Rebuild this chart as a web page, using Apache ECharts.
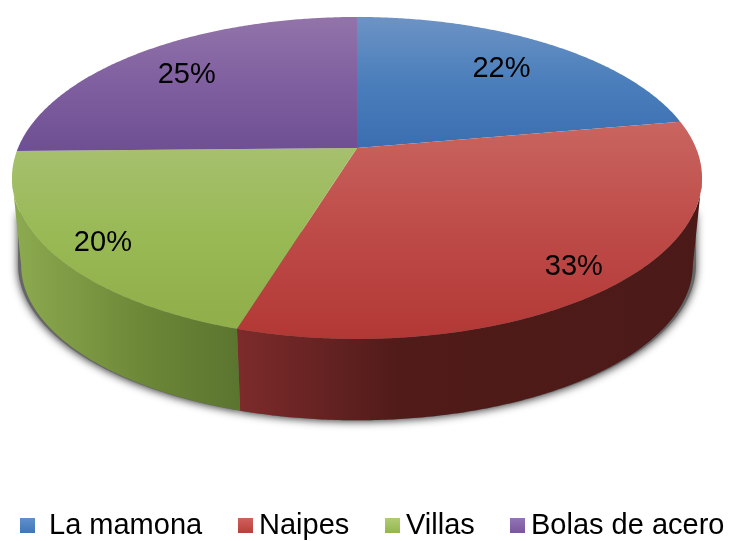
<!DOCTYPE html>
<html>
<head>
<meta charset="utf-8">
<style>html,body{margin:0;padding:0;background:#fff}#c{width:729px;height:541px}</style>
<script src="https://cdn.jsdelivr.net/npm/echarts@6/dist/echarts.min.js"></script>
</head>
<body>
<div id="c"></div>
<script>
var categories = ['La mamona', 'Naipes', 'Villas', 'Bolas de acero'];
var values = [22.2, 32.5, 20.0, 25.3];
var legendColors = [['#5f90cc', '#3f76b8'], ['#d0605c', '#b93f3b'], ['#b0cc74', '#94b64c'], ['#9274b4', '#7a569e']];
var topColors = [['#6d93c5', '#4a7ebb', '#3a6eb0'], ['#c9655f', '#be4b48', '#b23835'], ['#a6c06e', '#98b954', '#90ae49'], ['#9274aa', '#7f5f9f', '#6e4f92']];
var sideColors = [
  [[0, '#2f5686'], [1, '#264870']],
  [[0, '#7d2b2b'], [0.35, '#501b19'], [1, '#4b1a18']],
  [[0, '#8dab50'], [0.6, '#6b8636'], [1, '#5b7530']],
  [[0, '#5a4078'], [1, '#4a3464']]
];

var total = values.reduce(function (a, b) { return a + b; }, 0);
var CX = 357, TOP_CY = 148, TOP_A = 155.4, TOP_C = 339, B = 0.186;
var BOT_CY = 236, BOT_A = 150, BOT_C = 330;
// The wall of the disc is only visible between the two silhouette tangents.
var VIS_START = Math.acos(-B), VIS_END = 2 * Math.PI - VIS_START;

function project(theta, r, cy, a, c) {
  var X = r * Math.sin(theta), Z = r * Math.cos(theta), w = 1 + B * Z;
  return [CX + c * X / w, cy - a * Z / w];
}
function arc(t0, t1, cy, a, c) {
  var pts = [], n = Math.max(2, Math.ceil(Math.abs(t1 - t0) / (Math.PI / 360)));
  for (var i = 0; i <= n; i++) pts.push(project(t0 + (t1 - t0) * i / n, 1, cy, a, c));
  return pts;
}
function startOf(idx) {
  var s = 0;
  for (var i = 0; i < idx; i++) s += values[i];
  return s / total * Math.PI * 2;
}
function vertical(c) {
  return { type: 'linear', x: 0, y: 0, x2: 0, y2: 1, colorStops: c.map(function (col, i) { return { offset: i / (c.length - 1), color: col }; }) };
}
function horizontal(stops) {
  return { type: 'linear', x: 0, y: 0, x2: 1, y2: 0, colorStops: stops.map(function (s) { return { offset: s[0], color: s[1] }; }) };
}

function makeRender(idx) {
  return function (params, api) {
    var v = api.value(0);
    var t0 = startOf(idx), t1 = t0 + v / total * Math.PI * 2, mid = (t0 + t1) / 2;
    var topArc = arc(t0, t1, TOP_CY, TOP_A, TOP_C);
    var back = Math.cos(mid) > 0;
    var lp = project(mid, back ? 0.755 : 0.85, TOP_CY, TOP_A, TOP_C);
    var children = [];
    var s0 = Math.max(t0, VIS_START), s1 = Math.min(t1, VIS_END);
    if (s1 > s0) {
      var sideTop = arc(s0, s1, TOP_CY, TOP_A, TOP_C);
      var sideBot = arc(s0, s1, BOT_CY, BOT_A, BOT_C);
      var shadowPts = [[CX, BOT_CY]];
      if (s0 === VIS_START) shadowPts.push(project(s0, 1, TOP_CY + 34, TOP_A, TOP_C - 6));
      shadowPts = shadowPts.concat(arc(s0, s1, BOT_CY, BOT_A, BOT_C + 3));
      if (s1 === VIS_END) shadowPts.push(project(s1, 1, TOP_CY + 34, TOP_A, TOP_C - 6));
      children.push({
        type: 'polygon', z2: 0,
        shape: { points: shadowPts },
        style: { fill: '#666', shadowBlur: 8, shadowColor: 'rgba(0,0,0,0.8)', shadowOffsetY: 1 }
      });
      children.push({
        type: 'polygon', z2: 1,
        shape: { points: sideTop.concat(sideBot.slice().reverse()) },
        style: { fill: horizontal(sideColors[idx]) }
      });
    }
    children.push({
      type: 'polygon', z2: 5,
      shape: { points: [[CX, TOP_CY]].concat(topArc) },
      style: { fill: vertical(topColors[idx]) }
    });
    children.push({
      type: 'text', z2: 10,
      x: lp[0] + (back ? -4 : 0), y: lp[1] + (back ? 2 : 6.5),
      style: {
        text: Math.round(v / total * 100) + '%',
        fill: '#000',
        font: '29px "Liberation Sans", Arial, sans-serif',
        align: 'center', verticalAlign: 'middle'
      }
    });
    return { type: 'group', children: children };
  };
}

var legendLeft = [20, 238, 385, 510];
var legendPad = [9, 1, 1, 1];

var option = {
  backgroundColor: '#fff',
  animation: false,
  legend: categories.map(function (name, i) {
    return {
      data: [name],
      left: legendLeft[i],
      top: 511,
      padding: 0,
      selectedMode: false,
      itemWidth: 15,
      itemHeight: 15,
      itemStyle: { color: vertical(legendColors[i]) },
      icon: 'rect',
      textStyle: {
        color: '#000',
        fontFamily: '"Liberation Sans", Arial, sans-serif',
        fontSize: 29,
        padding: [0, 0, 0, legendPad[i]]
      }
    };
  }),
  series: categories.map(function (name, i) {
    return {
      type: 'custom',
      name: name,
      coordinateSystem: 'none',
      silent: true,
      itemStyle: { color: legendColors[i][0] },
      renderItem: makeRender(i),
      data: [values[i]]
    };
  })
};
var chart = echarts.init(document.getElementById('c'), null, { renderer: 'canvas' });
chart.setOption(option);
</script>
</body>
</html>
